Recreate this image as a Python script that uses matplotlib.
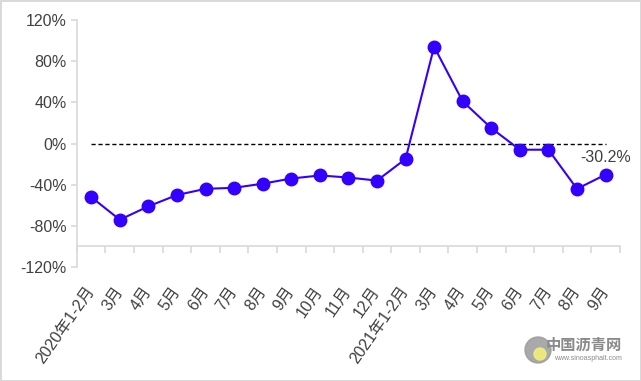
import matplotlib.pyplot as plt
from matplotlib.ticker import FuncFormatter, MultipleLocator
from matplotlib.patches import Circle

plt.rcParams['font.family'] = ['Liberation Sans', 'Noto Sans CJK SC', 'DejaVu Sans']

############################################
## Data
############################################

months = ['2020年1-2月', '3月', '4月', '5月', '6月', '7月', '8月', '9月', '10月', '11月', '12月',
          '2021年1-2月', '3月', '4月', '5月', '6月', '7月', '8月', '9月']
growth = [-52, -74, -61, -50, -44, -43, -39, -34, -31, -33, -36,
          -15, 94, 41, 15, -6, -6, -44, -30.2]
last_label = '-30.2%'

line_color = '#3300ff'
axis_color = '#d9d9d9'
text_color = '#404040'

############################################
## Plot
############################################

fig = plt.figure(figsize=(6.41, 3.81), dpi=100, edgecolor=axis_color, linewidth=2)
ax = fig.add_axes([0.120, 0.299, 0.847, 0.6485])

x = list(range(len(months)))
ax.hlines(0, x[0], x[-1], colors='black', linestyles=(0, (3, 2)), linewidth=1)
ax.plot(x, growth, color=line_color, linewidth=1.5, marker='o', markersize=9, zorder=3)
ax.annotate(last_label, (x[-1], growth[-1]), xytext=(0, 12), textcoords='offset points',
            ha='center', va='center', fontsize=11.5, color=text_color)

ax.set_ylim(-120, 120)
ax.set_xlim(-0.5, len(months) - 0.5)
ax.yaxis.set_major_locator(MultipleLocator(40))
ax.yaxis.set_major_formatter(FuncFormatter(lambda v, p: '%d%%' % v))

for s in ['top', 'right']:
    ax.spines[s].set_visible(False)
ax.spines['left'].set_color(axis_color)
ax.spines['bottom'].set_color(axis_color)
ax.spines['left'].set_linewidth(1.2)
ax.spines['bottom'].set_linewidth(1.2)
ax.spines['bottom'].set_position(('data', -100))

ax.tick_params(axis='y', colors=axis_color, labelcolor=text_color, labelsize=11.5, length=4, width=1.2)
ax.set_xticks(x)
ax.set_xticks([i - 0.5 for i in range(len(months) + 1)], minor=True)
ax.tick_params(axis='x', which='major', length=0, pad=30)
ax.tick_params(axis='x', which='minor', length=5, width=1.2, colors=axis_color)
ax.set_xticklabels(months, rotation=55, ha='right', va='center', rotation_mode='anchor',
                   fontsize=11.5, color=text_color)

# watermark
fig.patches.append(Circle((538, 31), 13, transform=None, color='#9a9a9a', alpha=0.85))
fig.patches.append(Circle((540, 27), 6, transform=None, color='#f2ee7a', alpha=0.9))
fig.text(0.970, 0.094, '中国沥青网', ha='right', va='center', fontsize=11,
         color='#8a8a8a', fontweight='bold')
fig.text(0.970, 0.058, 'www.sinoasphalt.com', ha='right', va='center', fontsize=5, color='#8a8a8a')

plt.savefig('out.png', dpi=100)
plt.close()
